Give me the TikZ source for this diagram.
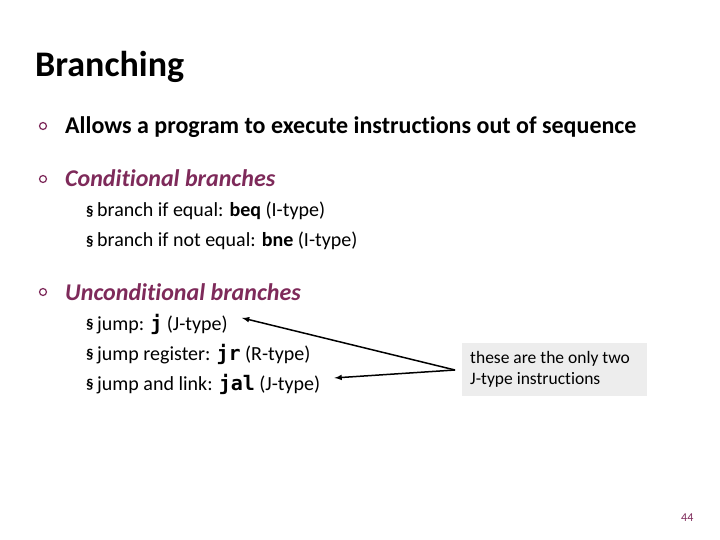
\documentclass[tikz,border=0pt]{standalone}
\usepackage{fontspec}
\setmainfont[RawFeature=-liga]{Carlito}
\setmonofont{DejaVu Sans Mono}
\usetikzlibrary{calc}
\begin{document}
\begin{tikzpicture}[x=1pt,y=-1pt,
  every node/.style={inner sep=0pt,anchor=base west},
  bul/.style={circle,draw=plum,line width=1.2pt,minimum size=7pt,inner sep=0pt,anchor=center},
  lvl1/.style={font=\fontsize{24}{28}\selectfont},
  lvl2/.style={font=\fontsize{20}{24}\selectfont},
  sec/.style={font=\fontsize{15}{18}\selectfont\bfseries},
  conn/.style={line width=1.5pt,-latex}]
\definecolor{plum}{HTML}{7E2A5A}
\useasboundingbox (0,0) rectangle (720,540);
\node (title) at (35,77) {\fontsize{36}{42}\selectfont\bfseries Branching};
\node[bul] (b1) at (43,126) {};
\node[lvl1] (t1) at (65,134) {\bfseries Allows a program to execute instructions out of sequence};
\node[bul] (b2) at (43,179) {};
\node[lvl1,text=plum] (t2) at (65,187) {\bfseries\itshape Conditional branches};
\node[sec] (s1) at (86,216) {\S};
\node[lvl2] (t3) at (97,217) {branch if equal: \textbf{beq} (I-type)};
\node[sec] (s2) at (86,246) {\S};
\node[lvl2] (t4) at (97,247) {branch if not equal: \textbf{bne} (I-type)};
\node[bul] (b3) at (43,292) {};
\node[lvl1,text=plum] (t5) at (65,300) {\bfseries\itshape Unconditional branches};
\node[sec] (s3) at (86,329) {\S};
\node[lvl2] (t6) at (97,330) {jump: \texttt{\bfseries j} (J-type)};
\node[sec] (s4) at (86,359) {\S};
\node[lvl2] (t7) at (97,360) {jump register: \texttt{\bfseries jr} (R-type)};
\node[sec] (s5) at (86,389) {\S};
\node[lvl2] (t8) at (97,390) {jump and link: \texttt{\bfseries jal} (J-type)};
\node[fill=black!7,minimum width=185pt,minimum height=53pt,anchor=north west] (box) at (462,343) {};
\node[font=\fontsize{17.5}{21}\selectfont,align=left,anchor=west] (note) at (470,369.5) {these are the only two\\J-type instructions};
\coordinate (tip) at (455,370);
\draw[conn] (tip) -- ($(t6.east)+(14,-6)$);
\draw[conn] (tip) -- ($(t8.east)+(14,-6)$);
\node[font=\fontsize{12}{14}\selectfont,text=plum] (pg) at (681,521) {44};
\end{tikzpicture}
\end{document}
